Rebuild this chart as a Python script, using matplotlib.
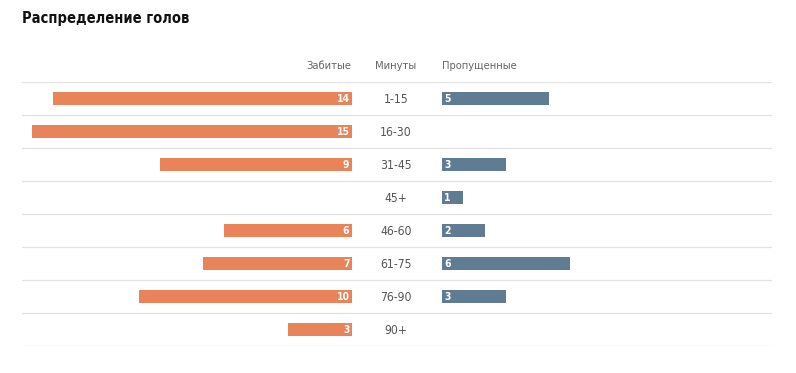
import matplotlib.pyplot as plt

minutes = ['1-15', '16-30', '31-45', '45+', '46-60', '61-75', '76-90', '90+']
scored = [14, 15, 9, 0, 6, 7, 10, 3]
conceded = [5, 0, 3, 1, 2, 6, 3, 0]

plt.rcParams['font.family'] = ['DejaVu Sans']
plt.rcParams['font.stretch'] = 'condensed'

orange = '#e8835a'
blue = '#5f7c92'
W, H = 796, 373
fig = plt.figure(figsize=(W / 100, H / 100), dpi=100)

# пиксели -> доли фигуры
top, bottom = 82, 346
x0, x1 = 22, 772
mid_l, mid_r = 352, 442
px_per_goal = 21.33
n = len(minutes)

def box(left, right):
    return [left / W, 1 - bottom / H, (right - left) / W, (bottom - top) / H]

ax_bg = fig.add_axes(box(x0, x1))
ax_l = fig.add_axes(box(x0, mid_l))
ax_r = fig.add_axes(box(mid_r, x1))

for ax in (ax_bg, ax_l, ax_r):
    ax.set_ylim(n - 0.5, -0.5)
    ax.axis('off')
    ax.patch.set_alpha(0)

for k in range(n + 1):
    ax_bg.axhline(k - 0.5, color='#e2e2e2', lw=0.9)
ax_bg.set_xlim(0, 1)
cx = (396 - x0) / (x1 - x0)
for i, m in enumerate(minutes):
    ax_bg.text(cx, i + 0.02, m, ha='center', va='center', fontsize=8.7, color='#555555')

ax_l.set_xlim((mid_l - x0) / px_per_goal, 0)
ax_r.set_xlim(0, (x1 - mid_r) / px_per_goal)

ys = list(range(n))
ax_l.barh(ys, scored, height=0.4, color=orange)
ax_r.barh(ys, conceded, height=0.4, color=blue)
for i in range(n):
    if scored[i]:
        ax_l.text(0.12, i + 0.03, str(scored[i]), ha='right', va='center',
                  fontsize=7.5, color='white', fontweight='bold')
    if conceded[i]:
        ax_r.text(0.1, i + 0.03, str(conceded[i]), ha='left', va='center',
                  fontsize=7.5, color='white', fontweight='bold')

# заголовки
hy = 1 - 66 / H
fig.text(351 / W, hy, 'Забитые', ha='right', va='center', fontsize=8, color='#666666')
fig.text(396 / W, hy, 'Минуты', ha='center', va='center', fontsize=8, color='#666666')
fig.text(442 / W, hy, 'Пропущенные', ha='left', va='center', fontsize=8, color='#666666')

fig.text(22 / W, 1 - 18 / H, 'Распределение голов', ha='left', va='center',
         fontsize=10.5, fontweight='bold', color='#111111')

fig.savefig('out.png', dpi=100)
